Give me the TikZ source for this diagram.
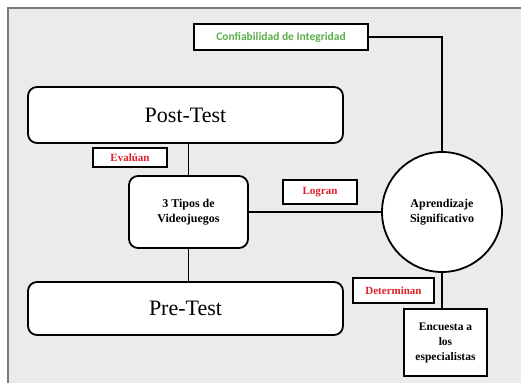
\documentclass[tikz,border=0pt]{standalone}
\usepackage{fontspec}
\setmainfont{Liberation Serif}
\newfontfamily\calib{Carlito}
\definecolor{bgray}{HTML}{EBEBEB}
\definecolor{fgray}{HTML}{7A7A7A}
\definecolor{lblred}{HTML}{E0202A}
\definecolor{lblgreen}{HTML}{5BB04A}
\begin{document}
\begin{tikzpicture}[x=1pt,y=-1pt,
  rbox/.style={draw=black,line width=1.8pt,fill=white,rounded corners=9pt,inner sep=0pt},
  sbox/.style={draw=black,line width=1.8pt,fill=white,inner sep=0pt},
  lbl/.style={draw=black,line width=1.8pt,fill=white,inner sep=0pt,font=\bfseries\fontsize{11}{12}\selectfont,text=lblred},
  conn/.style={line width=1.8pt,draw=black}]
\useasboundingbox (0,0) rectangle (521,383);
\fill[white] (0,0) rectangle (521,383);
\fill[bgray] (8,8) rectangle (521,383);
\draw[fgray,line width=1.5pt] (8,383) -- (8,8) -- (521,8);
% nodes
\node[sbox,minimum width=174pt,minimum height=26pt,font=\calib\bfseries\fontsize{11.5}{13}\selectfont,text=lblgreen] (conf) at (281,37) {Confiabilidad de Integridad};
\node[rbox,minimum width=315pt,minimum height=56pt,font=\fontsize{22}{24}\selectfont] (post) at (185.5,115) {Post-Test};
\node[rbox,minimum width=315pt,minimum height=53pt,font=\fontsize{22}{24}\selectfont] (pre) at (185.5,308.5) {Pre-Test};
\node[rbox,minimum width=119pt,minimum height=72pt,align=center,font=\bfseries\fontsize{12}{15}\selectfont] (tipos) at (188.5,212) {3 Tipos de\\Videojuegos};
\node[draw=black,line width=1.8pt,fill=white,circle,minimum size=120pt,inner sep=0pt,align=center,font=\bfseries\fontsize{12}{15}\selectfont] (apr) at (442,212) {Aprendizaje\\Significativo};
\node[sbox,minimum width=83pt,minimum height=67pt,align=center,font=\bfseries\fontsize{11.5}{15}\selectfont] (enc) at (445.5,342.5) {Encuesta a\\los\\especialistas};
\node[lbl,minimum width=74pt,minimum height=19pt] (eva) at (130,157.5) {Evalúan};
\node[lbl,minimum width=74pt,minimum height=24pt] (log) at (320,192) {Logran};
\node[lbl,minimum width=81pt,minimum height=25pt] (det) at (393.5,290.5) {Determinan};
% connectors
\draw[conn] (conf.east) -- (apr.north |- conf.east) -- (apr.north);
\draw[conn] (post.south -| tipos.north) -- (tipos.north);
\draw[conn] (tipos.south) -- (pre.north -| tipos.south);
\draw[conn] (tipos.east) -- (apr.west);
\draw[conn] (apr.south) -- (enc.north -| apr.south);
\end{tikzpicture}
\end{document}
